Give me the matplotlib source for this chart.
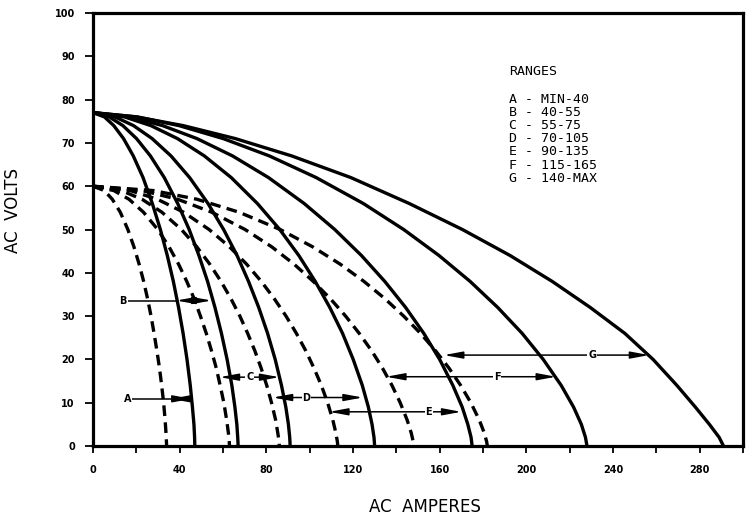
import matplotlib
matplotlib.use("Agg")
import matplotlib.pyplot as plt
from matplotlib.ticker import MultipleLocator

# volt levels the curves were read at
solid_volts = [77, 76, 74, 71, 67, 62, 56, 50, 44, 38, 32, 26, 20, 14, 9, 5, 2, 0]
dashed_volts = [60, 59, 57, 54, 50, 46, 42, 38, 34, 30, 26, 22, 18, 14, 10, 6, 3, 1, 0]

# amps of each max-setting (solid) curve at solid_volts
solid_amps = [
    [0, 5.3, 9.6, 14.1, 18.6, 23.1, 27.4, 31.1, 34.3, 37.1, 39.5, 41.6, 43.4, 44.9, 45.9, 46.6, 46.9, 47],
    [0, 7.5, 13.8, 20.1, 26.5, 32.9, 39.1, 44.4, 48.9, 52.9, 56.3, 59.3, 61.9, 64.1, 65.5, 66.4, 66.8, 67],
    [0, 10.2, 18.7, 27.3, 36.0, 44.6, 53.1, 60.3, 66.5, 71.8, 76.5, 80.6, 84.1, 87.0, 89.0, 90.2, 90.8, 91],
    [0, 14.6, 26.7, 39.0, 51.4, 63.8, 75.9, 86.2, 95.0, 102.6, 109.3, 115.2, 120.1, 124.3, 127.1, 128.8, 129.7, 130],
    [0, 16.9, 32.1, 48.0, 64.4, 81.0, 97.5, 111.6, 123.9, 134.7, 144.3, 152.7, 160.0, 166.1, 170.4, 173.0, 174.5, 175],
    [0, 20.5, 39.7, 60.1, 81.4, 103.0, 124.8, 143.4, 159.7, 174.1, 186.8, 198.1, 207.8, 216.1, 221.8, 225.4, 227.3, 228],
    [0, 20.1, 41.6, 65.7, 91.7, 119.0, 146.0, 170.5, 192.5, 212.0, 229.5, 245.5, 258.5, 269.5, 278.0, 284.5, 289.0, 291],
]

# amps of each min-setting (dashed) curve at dashed_volts
dashed_amps = [
    [0, 5.2, 8.9, 12.6, 16.1, 18.9, 21.3, 23.4, 25.2, 26.8, 28.2, 29.5, 30.7, 31.7, 32.6, 33.3, 33.7, 33.9, 34],
    [0, 9.6, 16.6, 23.3, 29.9, 35.1, 39.5, 43.3, 46.7, 49.6, 52.3, 54.7, 56.9, 58.7, 60.4, 61.7, 62.5, 62.9, 63],
    [0, 13.1, 22.6, 31.8, 40.8, 47.9, 53.9, 59.1, 63.7, 67.8, 71.4, 74.7, 77.6, 80.2, 82.4, 84.3, 85.3, 85.9, 86],
    [0, 17.2, 29.7, 41.8, 53.6, 63.0, 70.9, 77.7, 83.7, 89.1, 93.9, 98.2, 102.0, 105.4, 108.3, 110.7, 112.1, 112.8, 113],
    [0, 22.6, 39.0, 54.8, 70.2, 82.5, 92.8, 101.7, 109.6, 116.6, 122.9, 128.6, 133.6, 138.0, 141.8, 145.0, 146.9, 147.8, 148],
    [0, 27.8, 47.9, 67.4, 86.4, 101.4, 114.1, 125.1, 134.8, 143.4, 151.2, 158.1, 164.3, 169.7, 174.4, 178.3, 180.6, 181.7, 182],
]

# range arrows with the letter in the middle
mid_labels = ["C", "D", "E", "F", "G"]
mid_volts = [15.9, 11.2, 7.9, 16.0, 21.0]
mid_label_amps = [72.4, 98.5, 155.0, 186.6, 230.4]
mid_left = [58.5, 83.0, 109.0, 135.3, 162.0]
mid_right = [86.0, 124.5, 170.0, 213.7, 256.7]

# range arrows with the letter on a leader to the left
side_labels = ["A", "B"]
side_volts = [10.9, 33.6]
side_label_amps = [16.0, 14.0]
side_left = [36.0, 38.5]
side_right = [45.5, 54.7]

ranges_title = "RANGES"
ranges = ["A - MIN-40", "B - 40-55", "C - 55-75", "D - 70-105",
          "E - 90-135", "F - 115-165", "G - 140-MAX"]

fig = plt.figure(figsize=(7.48, 5.23), dpi=100)
ax = fig.add_axes([0.1243, 0.1472, 0.869, 0.8279])

for amps in solid_amps:
    ax.plot(amps, solid_volts, color="black", lw=2.4, solid_capstyle="round")
for amps in dashed_amps:
    ax.plot(amps, dashed_volts, color="black", lw=2.4, dashes=(3.2, 1.9))

arrow = dict(arrowstyle="-|>,head_length=0.7,head_width=0.13", color="black",
             lw=1.1, shrinkA=0, shrinkB=0, mutation_scale=16)

for lab, v, lx, l, r in zip(mid_labels, mid_volts, mid_label_amps, mid_left, mid_right):
    ax.annotate("", xy=(l, v), xytext=(lx, v), arrowprops=arrow)
    ax.annotate("", xy=(r, v), xytext=(lx, v), arrowprops=arrow)
    ax.text(lx, v, lab, fontsize=7, fontweight="bold", ha="center", va="center",
            bbox=dict(fc="white", ec="none", pad=0.6))

for lab, v, lx, l, r in zip(side_labels, side_volts, side_label_amps, side_left, side_right):
    mid = (l + r) / 2
    ax.plot([lx, l], [v, v], color="black", lw=1.1)
    ax.annotate("", xy=(l, v), xytext=(mid, v), arrowprops=arrow)
    ax.annotate("", xy=(r, v), xytext=(mid, v), arrowprops=arrow)
    ax.text(lx, v, lab, fontsize=7, fontweight="bold", ha="center", va="center",
            bbox=dict(fc="white", ec="none", pad=0.6))

ax.text(192.2, 86.4, ranges_title, fontsize=9.5, family="DejaVu Sans Mono", va="center")
for i, line in enumerate(ranges):
    ax.text(192.2, 80.1 - i * 3.04, line, fontsize=9.5, family="DejaVu Sans Mono",
            va="center")

ax.set_xlim(0, 300)
ax.set_ylim(0, 100)
ax.xaxis.set_major_locator(MultipleLocator(40))
ax.xaxis.set_minor_locator(MultipleLocator(20))
ax.yaxis.set_major_locator(MultipleLocator(10))
ax.set_xticks([0, 40, 80, 120, 160, 200, 240, 280])
for s in ax.spines.values():
    s.set_linewidth(2.3)
ax.tick_params(axis="both", which="both", direction="out", width=1.3, color="black")
ax.tick_params(axis="x", which="both", length=5, pad=9)
ax.tick_params(axis="y", length=6, pad=7)
for t in ax.get_xticklabels() + ax.get_yticklabels():
    t.set_fontsize(7)
    t.set_fontweight("bold")

ax.set_xlabel("AC  AMPERES", fontsize=12, va="center")
ax.xaxis.set_label_coords(0.511, -0.141)
ax.set_ylabel("AC  VOLTS", fontsize=12, va="center")
ax.yaxis.set_label_coords(-0.123, 0.545)

fig.savefig("out.png", dpi=100)
